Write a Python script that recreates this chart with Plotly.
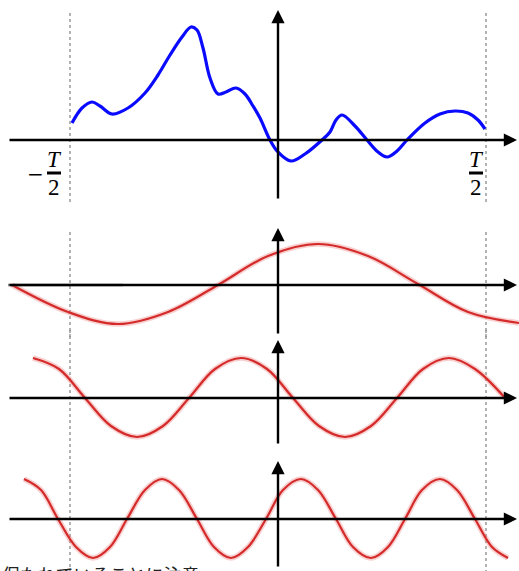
import plotly.graph_objects as go

# blue signal (top panel)
blue_x = [72, 82, 92, 100, 112, 128, 145, 158, 170, 182, 191, 197, 203, 210, 218, 226, 236, 245, 253, 260,
          270, 278, 291, 305, 322, 330, 336, 342, 355, 367, 378, 387, 397, 407, 425, 440, 455, 468, 478, 485]
blue_y = [123, 108, 102, 106, 114, 108, 93, 75, 55, 37, 27, 30, 48, 78, 94, 92, 88, 94, 106, 118,
          140, 152, 161, 154, 140, 132, 120, 115, 126, 140, 152, 157, 151, 140, 123, 114, 111, 113, 120, 129]

# fundamental (panel 2)
red1_x = [12, 68, 118, 168, 218, 268, 318, 368, 418, 468, 519]
red1_y = [285, 312, 324, 312, 285, 256, 244, 256, 284, 312, 323]

# 2nd harmonic (panel 3)
red2_x = [33, 59, 85, 111, 137, 163, 189, 215, 241, 267, 293, 319, 345, 371, 397, 423, 449, 475, 505]
red2_y = [358, 369, 398, 426, 437, 426, 398, 369, 358, 369, 398, 426, 437, 426, 398, 369, 358, 369, 398]

# 3rd harmonic (panel 4)
red3_x = [24, 41, 58, 76, 93, 110, 127, 145, 162, 179, 197, 214, 231, 248, 266, 283, 301, 318, 336, 353,
          371, 388, 405, 422, 440, 457, 475, 492, 508]
red3_y = [479, 490, 519, 547, 558, 547, 519, 490, 479, 490, 519, 547, 558, 547, 519, 490, 479, 490, 519, 547,
          558, 547, 519, 490, 479, 490, 519, 547, 558]

axis_y = [140, 285, 398, 519]          # horizontal axis per panel
yaxis_span = [(200, 10), (335, 228), (445, 340), (568, 461)]
dot_span = [(13, 205), (232, 338), (330, 447), (450, 571)]
x_zero = 278
x_half = [70, 486]

fig = go.Figure()

fig.add_trace(go.Scatter(x=blue_x, y=blue_y, mode='lines', line=dict(color='#0a0aff', width=3.2, shape='spline', smoothing=1.0),
                         hoverinfo='skip'))
for xs, ys in [(red1_x, red1_y), (red2_x, red2_y), (red3_x, red3_y)]:
    fig.add_trace(go.Scatter(x=xs, y=ys, mode='lines', line=dict(color='rgba(235,120,120,0.35)', width=5.5, shape='spline', smoothing=1.0),
                             hoverinfo='skip'))
    fig.add_trace(go.Scatter(x=xs, y=ys, mode='lines', line=dict(color='#d42a2a', width=2.2, shape='spline', smoothing=1.0),
                             hoverinfo='skip'))

shapes = []
annotations = []
for i, ay in enumerate(axis_y):
    # dotted guides at -T/2 and T/2
    for xd in x_half:
        shapes.append(dict(type='line', x0=xd, x1=xd, y0=dot_span[i][0], y1=dot_span[i][1],
                           line=dict(color='#808080', width=1.2, dash='dot'), layer='below'))
    # horizontal axis arrow
    annotations.append(dict(x=517, y=ay, ax=8, ay=ay, xref='x', yref='y', axref='x', ayref='y', text='',
                            showarrow=True, arrowhead=2, arrowsize=1.1, arrowwidth=2.4, arrowcolor='black'))
    # vertical axis arrow
    annotations.append(dict(x=x_zero, y=yaxis_span[i][1], ax=x_zero, ay=yaxis_span[i][0], xref='x', yref='y',
                            axref='x', ayref='y', text='', showarrow=True, arrowhead=2, arrowsize=1.1,
                            arrowwidth=2.4, arrowcolor='black'))

# greyish left piece of the second axis
shapes.append(dict(type='line', x0=8, x1=123, y0=285, y1=285, line=dict(color='#8a8a8a', width=2.6)))

# -T/2 and T/2 labels
lab_font = dict(family='Liberation Serif', size=23, color='black')
for xc, minus in [(54, True), (476, False)]:
    annotations.append(dict(x=xc, y=159, text='<i>T</i>', showarrow=False, font=lab_font, xref='x', yref='y'))
    annotations.append(dict(x=xc, y=187, text='2', showarrow=False, font=lab_font, xref='x', yref='y'))
    shapes.append(dict(type='line', x0=xc - 7, x1=xc + 7, y0=173, y1=173, line=dict(color='black', width=3)))
    if minus:
        annotations.append(dict(x=35, y=174, text='−', showarrow=False,
                                font=dict(family='DejaVu Sans', size=20, color='black'), xref='x', yref='y'))

annotations.append(dict(x=0, y=571, text='保たれていることに注意', showarrow=False, xanchor='left', yanchor='top',
                        yshift=12, font=dict(family='Noto Sans CJK JP', size=18, color='#222222'), xref='x', yref='y'))

fig.update_layout(
    width=519, height=571,
    margin=dict(l=0, r=0, t=0, b=0),
    paper_bgcolor='white', plot_bgcolor='white',
    showlegend=False,
    xaxis=dict(range=[0, 519], visible=False, fixedrange=True),
    yaxis=dict(range=[571, 0], visible=False, fixedrange=True),
    shapes=shapes, annotations=annotations,
)

fig.write_html("out.html", config={'displayModeBar': False},
               post_script="document.body.style.margin='0';")
